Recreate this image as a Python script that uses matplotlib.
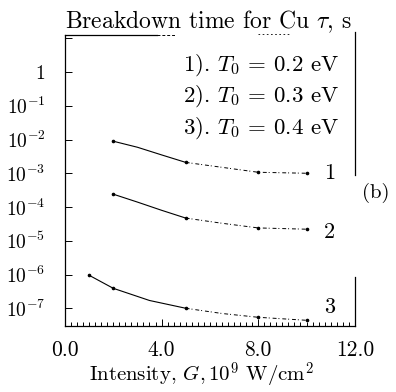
import matplotlib
matplotlib.use("Agg")
import matplotlib.pyplot as plt
import matplotlib.ticker as mticker
import numpy as np

plt.rcParams["font.family"] = ["cmr10"]
plt.rcParams["mathtext.fontset"] = "cm"
plt.rcParams["axes.formatter.use_mathtext"] = True

# intensity G (10^9 W/cm^2) and breakdown time tau (s)
G1 = [2.0, 3.0, 4.0, 5.0, 6.5, 8.0, 10.0]
tau1 = [8.9e-3, 5.9e-3, 3.5e-3, 2.1e-3, 1.5e-3, 1.07e-3, 1.0e-3]
G2 = [2.0, 3.0, 4.0, 5.0, 6.5, 8.0, 10.0]
tau2 = [2.4e-4, 1.4e-4, 8.0e-5, 4.7e-5, 3.3e-5, 2.4e-5, 2.2e-5]
G3 = [1.0, 2.0, 3.5, 5.0, 6.5, 8.0, 10.0]
tau3 = [9.5e-7, 3.9e-7, 1.7e-7, 1.0e-7, 7.0e-8, 5.4e-8, 4.4e-8]

curve_names = ["1", "2", "3"]
name_tau = [1.0e-3, 1.8e-5, 1.07e-7]
T0 = [0.2, 0.3, 0.4]
marked = [1.0, 2.0, 5.0, 8.0, 10.0]

fig = plt.figure(figsize=(3.96, 3.92), dpi=100)
ax = fig.add_axes([0.164, 0.168, 0.732, 0.743])

for G, tau, name, ty in zip([G1, G2, G3], [tau1, tau2, tau3],
                            curve_names, name_tau):
    G = np.array(G)
    tau = np.array(tau)
    ax.plot(G[G <= 5.0], tau[G <= 5.0], color="black", lw=0.8)
    ax.plot(G[G >= 5.0], tau[G >= 5.0], color="black", lw=0.7,
            dashes=(4, 2, 1, 3))
    m = np.isin(G, marked)
    ax.plot(G[m], tau[m], ls="none", marker="o", ms=1.6, color="black")
    ax.text(10.95, ty, name, fontsize=16, va="center", ha="center")

ax.set_yscale("log")
ax.set_xlim(0, 12)
ax.set_ylim(10 ** -7.53, 10 ** 1.1)

ax.xaxis.set_major_locator(mticker.FixedLocator([0, 4, 8, 12]))
ax.xaxis.set_minor_locator(mticker.MultipleLocator(0.25))
ax.xaxis.set_major_formatter(mticker.FormatStrFormatter("%.1f"))

yt = [10.0 ** k for k in range(0, -8, -1)]
ylab = ["1"] + [r"$10^{%d}$" % k for k in range(-1, -8, -1)]
ax.yaxis.set_major_locator(mticker.FixedLocator(yt + [10.0]))
ax.set_yticklabels(ylab + [""])
ax.yaxis.set_minor_locator(mticker.LogLocator(base=10, subs=np.arange(2, 10)))
ax.yaxis.set_minor_formatter(mticker.NullFormatter())

ax.tick_params(which="both", direction="in", width=0.7)
ax.tick_params(which="major", length=5)
ax.tick_params(which="minor", length=3)
ax.tick_params(axis="x", pad=10, labelsize=15.5)
ax.tick_params(axis="y", pad=14, labelsize=14)

# frame: broken top and right edges
for s in ax.spines.values():
    s.set_linewidth(0.9)
ax.spines["top"].set_bounds(0, 3.8)
ax.plot([3.8, 4.6], [10 ** 1.1, 10 ** 1.1], color="black", lw=0.7,
        dashes=(3, 2), clip_on=False)
ax.plot([8.0, 9.3], [10 ** 1.13, 10 ** 1.13], color="black", lw=0.6,
        dashes=(2, 3), clip_on=False)
ax.spines["right"].set_bounds(10 ** -3.05, 10 ** 1.2)
ax.axvline(12, ymin=0, ymax=0.17, color="black", lw=0.9, clip_on=False)

ax.set_title(r"Breakdown time for Cu $\tau$, s", fontsize=17, pad=3,
             loc="left")
ax.set_xlabel(r"Intensity, $G, 10^9$ W/cm$^2$", fontsize=15)
ax.xaxis.set_label_coords(0.47, -0.118)

for i, t in enumerate(T0):
    ax.text(0.945, 0.897 - i * 0.108, r"%d). $T_0$ = %.1f eV" % (i + 1, t),
            transform=ax.transAxes, fontsize=16.5, ha="right", va="center")

fig.text(0.915, 0.508, "(b)", fontsize=15, ha="left", va="center")

fig.savefig("out.png", dpi=100)
